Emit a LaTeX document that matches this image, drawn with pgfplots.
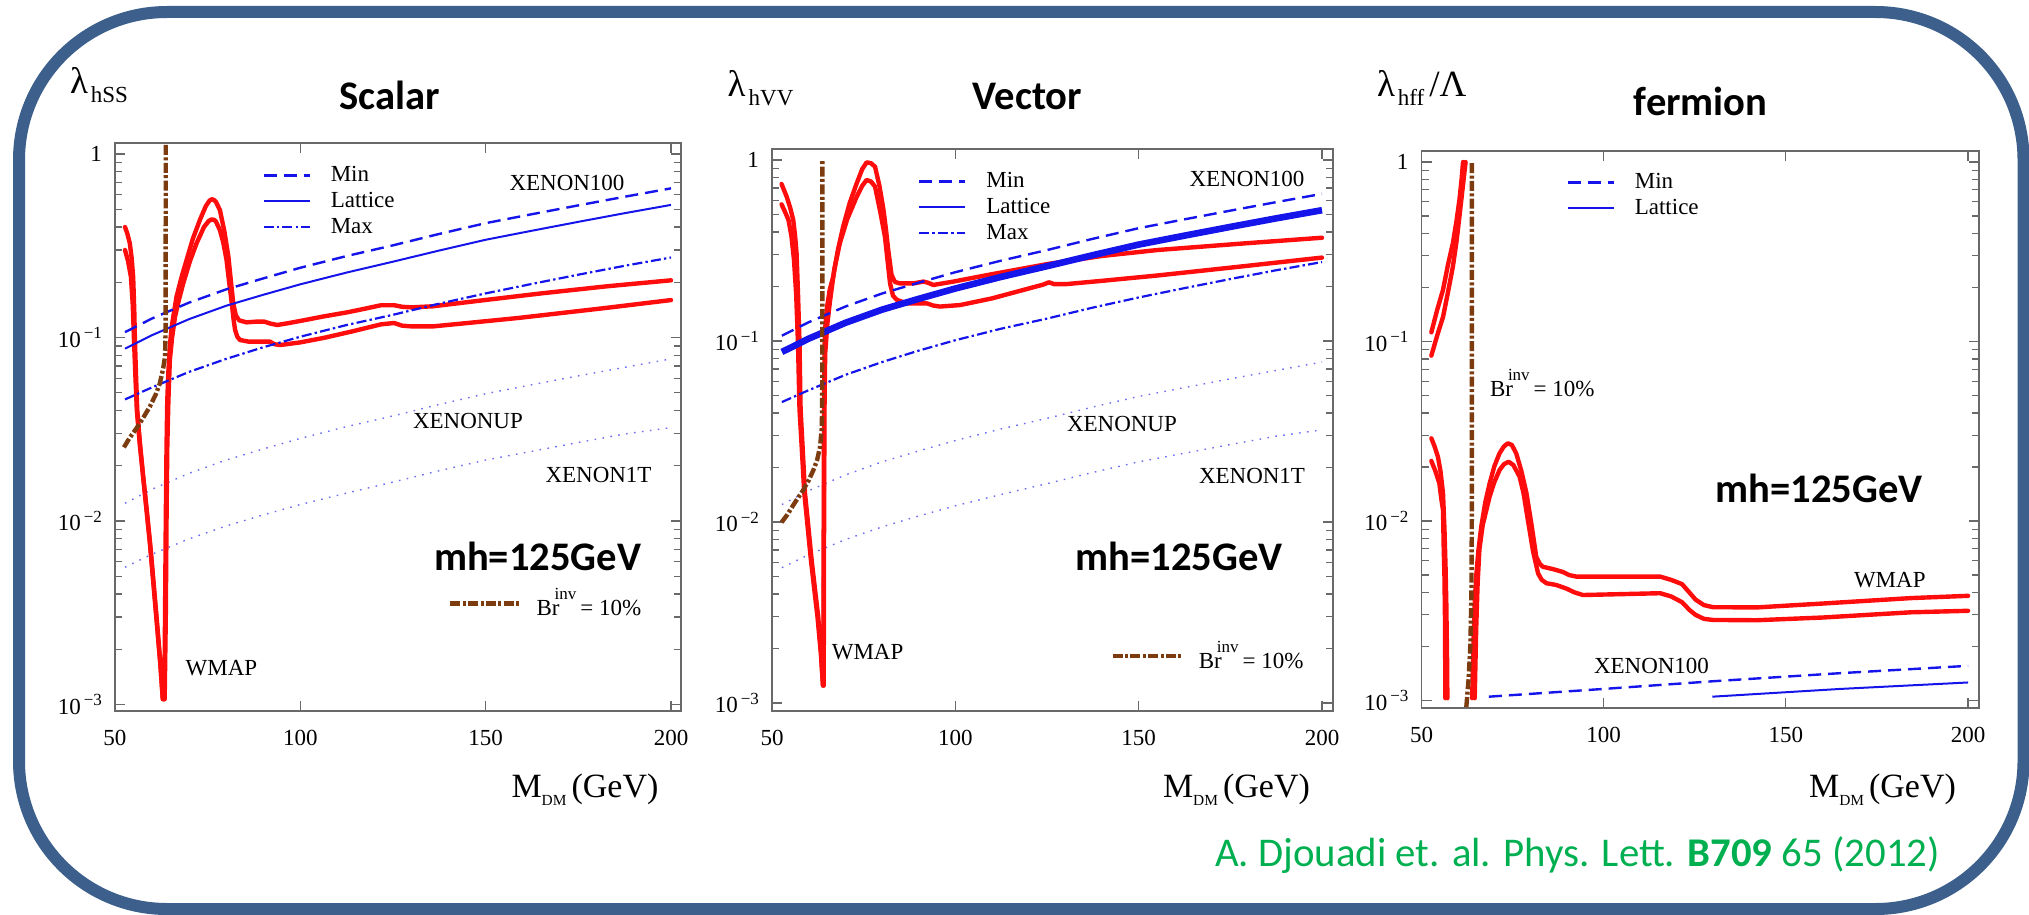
\documentclass[border=0pt]{standalone}
\usepackage{pgfplots}
\usepackage{pgfplotstable}
\pgfplotsset{compat=1.18}
\usepackage{fontspec}
\setmainfont{Liberation Serif}
\newfontfamily\calib{Carlito}

\definecolor{framecol}{RGB}{60,95,140}
\definecolor{dmblue}{RGB}{20,20,235}
\definecolor{dotblue}{RGB}{110,110,245}
\definecolor{wmapred}{RGB}{255,12,12}
\definecolor{brn}{RGB}{125,60,15}
\definecolor{citegreen}{RGB}{0,176,80}
\definecolor{axgray}{RGB}{105,105,105}

\newcommand\fs[1]{\fontsize{#1}{#1}\selectfont}
\newcommand\pw[1]{10\kern1.5pt\raisebox{0.8ex}{\fs{8.5}−#1}}
\newcommand\brinvtext{Br\kern-2.5pt\raisebox{8pt}{\fs{8.5}inv}\kern2pt= 10\%}
\newcommand\mdm{\fs{17}M\raisebox{-4pt}{\fs{7.7}DM}\kern2.5pt(GeV)}

% direct-detection bands (same for scalar and vector DM)
\pgfplotstableread{
x     min    lat    max     up      oneT
52.7  0.107  0.087  0.0460  0.0125  0.0056
60    0.127  0.103  0.0535  0.0149  0.0066
70    0.155  0.126  0.0650  0.0182  0.0080
80    0.183  0.149  0.0765  0.0215  0.0094
90    0.210  0.171  0.0885  0.0247  0.0108
100   0.240  0.195  0.1010  0.0282  0.0123
112.5 0.278  0.226  0.1170  0.0327  0.0142
125   0.318  0.259  0.1330  0.0374  0.0163
137.5 0.367  0.298  0.1530  0.0432  0.0188
150   0.420  0.341  0.1740  0.0494  0.0215
162.5 0.470  0.382  0.1960  0.0553  0.0240
175   0.525  0.427  0.2200  0.0618  0.0268
187.5 0.585  0.476  0.2460  0.0688  0.0298
200   0.650  0.528  0.2730  0.0765  0.0323
}\xenonlines

\tikzset{
  minline/.style={dmblue, line width=1.2pt, dash pattern=on 6.5pt off 3.5pt},
  latline/.style={dmblue, line width=1pt},
  maxline/.style={dmblue, line width=1.1pt, dash pattern=on 5pt off 1.6pt on 1.2pt off 1.6pt},
  xenline/.style={dotblue, line width=0.7pt, dash pattern=on 0.8pt off 3.2pt},
  wmap/.style={wmapred, line width=2.2pt, line join=round, line cap=round},
  brinv/.style={brn, line width=2.2pt, dash pattern=on 5pt off 1.2pt on 1.5pt off 1.2pt},
}

\begin{document}
\begin{tikzpicture}
\useasboundingbox (0,0) rectangle (1014.5pt,-457.5pt);
\draw[framecol, line width=6pt, rounded corners=74pt] (9.5pt,-6pt) rectangle (1011.75pt,-454.5pt);

% ---------------- scalar ----------------
\begin{axis}[at={(57.5pt,-355.5pt)}, anchor=south west,
  scale only axis, width=283pt, height=284pt,
  ymode=log, xmin=50, xmax=202.7, ymin=9.22e-4, ymax=1.148,
  axis line style={axgray, line width=0.65pt},
  tick style={axgray, line width=0.6pt},
  major tick length=5pt, minor tick length=3.5pt,
  tick align=inside, xtick pos=both, ytick pos=both,
  xtick={50,100,150,200}, xticklabels={50,100,150,200},
  ytick={1e-3,1e-2,1e-1,1}, yticklabels={\pw3,\pw2,\pw1,1},
  minor ytick={2e-3,3e-3,4e-3,5e-3,6e-3,7e-3,8e-3,9e-3,2e-2,3e-2,4e-2,5e-2,6e-2,7e-2,8e-2,9e-2,0.2,0.3,0.4,0.5,0.6,0.7,0.8,0.9},
  tick label style={font=\fs{11.5}},
  xticklabel style={yshift=-6pt}, yticklabel style={xshift=-3pt},
  legend cell align=left,
  legend image code/.code={\draw[#1] (0pt,0pt) -- (23pt,0pt);},
  legend style={draw=none, fill=none, font=\fs{11.5}, anchor=north west,
    inner sep=0pt, row sep=-0.2pt, column sep=8pt, at={(0.2597,0.9665)}}]
\addlegendimage{minline}\addlegendentry{Min}
\addlegendimage{latline}\addlegendentry{Lattice}
\addlegendimage{maxline}\addlegendentry{Max}
\addplot[xenline, forget plot] table[x=x, y=up] {\xenonlines};
\addplot[xenline, forget plot] table[x=x, y=oneT] {\xenonlines};
\addplot[wmap, forget plot] coordinates {(52.7,0.40) (53.3,0.37) (54.0,0.326) (54.5,0.27) (54.9,0.214) (55.2,0.14) (55.4,0.093) (55.7,0.060) (56.0,0.0403) (56.7,0.027) (57.6,0.0174) (58.5,0.0115) (59.4,0.0076) (60.3,0.0047) (61.2,0.0029) (62.2,0.0017) (62.9,0.00107) (63.3,0.00107) (63.5,0.003) (63.7,0.01) (63.9,0.025) (64.1,0.045) (64.4,0.065) (64.8,0.09) (65.3,0.1145) (66.6,0.167) (68.0,0.215) (69.3,0.264) (71.0,0.345) (72.9,0.437) (74.5,0.52) (75.5,0.557) (76.1,0.567) (76.7,0.562) (77.2,0.55) (78.3,0.495) (79.5,0.38) (80.6,0.275) (81.3,0.2) (81.9,0.154) (82.6,0.132) (83.5,0.124) (85.5,0.121) (88,0.122) (90.3,0.122) (92,0.119) (93.8,0.117) (97,0.120) (100.8,0.124) (106,0.130) (112.5,0.137) (117,0.143) (121.8,0.150) (125.3,0.150) (127.5,0.147) (130,0.146) (135.8,0.148) (147.5,0.158) (165,0.174) (182.5,0.19) (200,0.205)};
\addplot[wmap, forget plot] coordinates {(52.7,0.30) (53.5,0.262) (54.3,0.214) (54.8,0.15) (55.1,0.10) (55.5,0.062) (55.9,0.040) (56.7,0.026) (57.8,0.016) (58.7,0.0108) (59.6,0.0071) (60.5,0.0044) (61.4,0.0027) (62.3,0.0016) (62.9,0.00107) (63.4,0.00107) (63.7,0.003) (63.9,0.01) (64.1,0.025) (64.4,0.045) (64.8,0.0754) (65.4,0.10) (66.2,0.130) (67.3,0.162) (68.4,0.197) (70.2,0.26) (72.0,0.326) (74.0,0.40) (75.3,0.432) (76.1,0.44) (76.7,0.438) (77.2,0.43) (78.3,0.385) (79.2,0.33) (80.1,0.264) (80.8,0.2) (81.5,0.154) (82.0,0.125) (82.4,0.110) (83.0,0.101) (83.7,0.097) (86,0.095) (89.1,0.095) (91.8,0.095) (93,0.092) (94.5,0.091) (99.9,0.094) (106.6,0.0998) (114,0.108) (121.8,0.118) (125.3,0.120) (127.5,0.116) (130,0.115) (135.8,0.115) (147,0.121) (159.1,0.128) (182.5,0.145) (200,0.160)};
\addplot[minline, forget plot] table[x=x, y=min] {\xenonlines};
\addplot[latline, forget plot] table[x=x, y=lat] {\xenonlines};
\addplot[maxline, forget plot] table[x=x, y=max] {\xenonlines};
\addplot[brinv, forget plot] coordinates {(52.4,0.0252) (54,0.0285) (55.8,0.032) (57.6,0.0365) (59.4,0.042) (61,0.049) (62.1,0.0563) (63.0,0.068) (63.5,0.0786) (63.65,0.11) (63.7,1.14)};
\end{axis}
\begin{axis}[at={(57.5pt,-355.5pt)}, anchor=south west, scale only axis,
  width=283pt, height=284pt, hide axis, xmin=0, xmax=1, ymin=0, ymax=1,
  legend image code/.code={\draw[#1] (0pt,0pt) -- (35.5pt,0pt);},
  legend style={draw=none, fill=none, font=\fs{11.5}, anchor=north west,
    inner sep=0pt, column sep=4.5pt, at={(0.588,0.2236)}}]
\addlegendimage{brinv}\addlegendentry{\brinvtext}
\end{axis}

% ---------------- vector ----------------
\begin{axis}[at={(386pt,-355.5pt)}, anchor=south west,
  scale only axis, width=280.5pt, height=281pt,
  ymode=log, xmin=50, xmax=203.0, ymin=9.04e-4, ymax=1.150,
  axis line style={axgray, line width=0.65pt},
  tick style={axgray, line width=0.6pt},
  major tick length=5pt, minor tick length=3.5pt,
  tick align=inside, xtick pos=both, ytick pos=both,
  xtick={50,100,150,200}, xticklabels={50,100,150,200},
  ytick={1e-3,1e-2,1e-1,1}, yticklabels={\pw3,\pw2,\pw1,1},
  minor ytick={2e-3,3e-3,4e-3,5e-3,6e-3,7e-3,8e-3,9e-3,2e-2,3e-2,4e-2,5e-2,6e-2,7e-2,8e-2,9e-2,0.2,0.3,0.4,0.5,0.6,0.7,0.8,0.9},
  tick label style={font=\fs{11.5}},
  xticklabel style={yshift=-6pt}, yticklabel style={xshift=-3pt},
  legend cell align=left,
  legend image code/.code={\draw[#1] (0pt,0pt) -- (23pt,0pt);},
  legend style={draw=none, fill=none, font=\fs{11.5}, anchor=north west,
    inner sep=0pt, row sep=-0.2pt, column sep=8pt, at={(0.2595,0.9660)}}]
\addlegendimage{minline}\addlegendentry{Min}
\addlegendimage{latline}\addlegendentry{Lattice}
\addlegendimage{maxline}\addlegendentry{Max}
\addplot[xenline, forget plot] table[x=x, y=up] {\xenonlines};
\addplot[xenline, forget plot] table[x=x, y=oneT] {\xenonlines};
\addplot[wmap, forget plot] coordinates {(52.6,0.737) (53.3,0.68) (54.0,0.627) (54.9,0.55) (55.8,0.466) (56.3,0.38) (56.7,0.305) (57.1,0.18) (57.5,0.097) (57.8,0.0416) (58.3,0.027) (59.0,0.0144) (59.9,0.0095) (60.8,0.0062) (61.7,0.0043) (62.6,0.0030) (63.4,0.0019) (63.9,0.00125) (64.05,0.00125) (64.1,0.01) (64.2,0.05) (64.4,0.11) (64.9,0.148) (65.7,0.19) (66.7,0.227) (68,0.32) (69.4,0.428) (71.2,0.58) (73.1,0.743) (74.6,0.89) (75.8,0.97) (77,0.96) (78.1,0.918) (79.3,0.72) (80.4,0.53) (81.1,0.41) (81.7,0.318) (82.6,0.232) (83.5,0.212) (84.9,0.208) (88.5,0.208) (91.3,0.213) (92.5,0.21) (94.0,0.204) (99.5,0.213) (110,0.234) (125.5,0.267) (140,0.295) (155,0.318) (178.7,0.346) (200,0.372)};
\addplot[wmap, forget plot] coordinates {(52.6,0.569) (53.5,0.52) (54.5,0.466) (55.3,0.38) (56.0,0.28) (56.6,0.18) (57.1,0.095) (57.5,0.042) (58.1,0.026) (58.8,0.0145) (59.7,0.0095) (60.6,0.0062) (61.5,0.0043) (62.4,0.0030) (63.3,0.0019) (63.9,0.00125) (64.1,0.00125) (64.2,0.01) (64.3,0.04) (64.5,0.085) (65.1,0.125) (65.8,0.165) (67,0.25) (68.5,0.347) (70.5,0.47) (73.1,0.627) (74.6,0.72) (75.8,0.776) (77,0.76) (78.1,0.713) (79.5,0.52) (80.8,0.377) (81.5,0.28) (82.2,0.208) (83,0.178) (84.0,0.169) (86.7,0.1615) (92.2,0.1615) (94,0.157) (95.8,0.155) (101.3,0.158) (110,0.172) (120,0.195) (124,0.205) (125.5,0.211) (127,0.206) (130,0.206) (140,0.215) (155,0.230) (178.7,0.259) (200,0.289)};
\addplot[minline, forget plot] table[x=x, y=min] {\xenonlines};
\addplot[latline, line width=3.3pt, forget plot] table[x=x, y=lat] {\xenonlines};
\addplot[maxline, forget plot] table[x=x, y=max] {\xenonlines};
\addplot[brinv, forget plot] coordinates {(52.6,0.00995) (54.2,0.011) (55.8,0.0124) (57.2,0.0137) (58.5,0.0150) (60,0.017) (61.3,0.0194) (62.3,0.022) (63.1,0.026) (63.6,0.0336) (63.7,0.06) (63.75,1.0)};
\end{axis}
\begin{axis}[at={(386pt,-355.5pt)}, anchor=south west, scale only axis,
  width=280.5pt, height=281pt, hide axis, xmin=0, xmax=1, ymin=0, ymax=1,
  legend image code/.code={\draw[#1] (0pt,0pt) -- (35.5pt,0pt);},
  legend style={draw=none, fill=none, font=\fs{11.5}, anchor=north west,
    inner sep=0pt, column sep=4.5pt, at={(0.6025,0.1327)}}]
\addlegendimage{brinv}\addlegendentry{\brinvtext}
\end{axis}

% ---------------- fermion ----------------
\begin{axis}[at={(710.75pt,-354pt)}, anchor=south west,
  scale only axis, width=278.75pt, height=278.5pt,
  ymode=log, xmin=50, xmax=203.0, ymin=9.08e-4, ymax=1.152,
  axis line style={axgray, line width=0.65pt},
  tick style={axgray, line width=0.6pt},
  major tick length=5pt, minor tick length=3.5pt,
  tick align=inside, xtick pos=both, ytick pos=both,
  xtick={50,100,150,200}, xticklabels={50,100,150,200},
  ytick={1e-3,1e-2,1e-1,1}, yticklabels={\pw3,\pw2,\pw1,1},
  minor ytick={2e-3,3e-3,4e-3,5e-3,6e-3,7e-3,8e-3,9e-3,2e-2,3e-2,4e-2,5e-2,6e-2,7e-2,8e-2,9e-2,0.2,0.3,0.4,0.5,0.6,0.7,0.8,0.9},
  tick label style={font=\fs{11.5}},
  xticklabel style={yshift=-6pt}, yticklabel style={xshift=-3pt},
  legend cell align=left,
  legend image code/.code={\draw[#1] (0pt,0pt) -- (23pt,0pt);},
  legend style={draw=none, fill=none, font=\fs{11.5}, anchor=north west,
    inner sep=0pt, row sep=-0.2pt, column sep=8pt, at={(0.2592,0.9680)}}]
\addlegendimage{minline}\addlegendentry{Min}
\addlegendimage{latline}\addlegendentry{Lattice}
\addplot[wmap, forget plot] coordinates {(52.7,0.1125) (54.3,0.15) (55.9,0.194) (57.3,0.27) (58.6,0.352) (59.6,0.47) (60.4,0.614) (61.0,0.8) (61.4,1.0)};
\addplot[wmap, forget plot] coordinates {(52.7,0.0834) (54.3,0.108) (55.9,0.137) (57.3,0.19) (58.6,0.261) (59.6,0.36) (60.4,0.496) (61.3,0.72) (62.1,1.0)};
\addplot[wmap, forget plot] coordinates {(52.7,0.0289) (53.6,0.026) (54.5,0.0228) (55.2,0.019) (55.9,0.01426) (56.3,0.009) (56.6,0.0055) (56.8,0.0035) (57.0,0.0018) (57.1,0.00103)};
\addplot[wmap, forget plot] coordinates {(52.7,0.0216) (53.8,0.019) (54.9,0.0162) (55.5,0.013) (55.9,0.0115) (56.1,0.007) (56.3,0.0049) (56.45,0.0028) (56.55,0.00103)};
\addplot[wmap, forget plot] coordinates {(63.9,0.00103) (64.3,0.0022) (64.6,0.0035) (65.0,0.0049) (65.6,0.0068) (66.4,0.0093) (67.5,0.0127) (68.7,0.0162) (70.0,0.0202) (71.4,0.0238) (72.6,0.026) (73.7,0.0271) (74.8,0.0265) (76.0,0.0238) (77.4,0.019) (78.8,0.0143) (80.2,0.0095) (81.5,0.0063) (82.4,0.0058) (83.3,0.00556) (86,0.0054) (88.8,0.0052) (90.5,0.005) (92.5,0.0049) (101,0.0049) (110,0.0049) (115.5,0.0049) (118.5,0.0047) (121.5,0.00445) (123.5,0.0040) (125.2,0.00365) (127.5,0.0034) (130,0.00331) (142,0.0033) (160.2,0.00347) (184.3,0.00372) (200,0.00383)};
\addplot[wmap, forget plot] coordinates {(64.6,0.00103) (65.0,0.0025) (65.4,0.0045) (65.9,0.0070) (66.8,0.0095) (68.7,0.0137) (70.0,0.0165) (71.4,0.0192) (72.6,0.0207) (73.9,0.0214) (75.2,0.0205) (76.9,0.0177) (78.0,0.0143) (79.2,0.0101) (80.6,0.0068) (82.0,0.0051) (83.0,0.0047) (84.3,0.0045) (87,0.0044) (89.8,0.0042) (92,0.004) (94.3,0.00387) (101.6,0.0039) (115.5,0.00396) (118.5,0.0038) (121.5,0.00353) (123.5,0.0032) (125.2,0.0030) (127.5,0.00285) (130,0.00281) (142,0.0028) (160.2,0.0029) (184.3,0.0031) (200,0.00316)};
\addplot[minline, forget plot] coordinates {(68.5,0.00105) (100,0.00116) (130,0.00128) (165,0.00142) (200,0.00156)};
\addplot[latline, forget plot] coordinates {(129.8,0.00105) (165,0.00116) (200,0.00126)};
\addplot[brinv, forget plot] coordinates {(62.3,0.00092) (62.9,0.0013) (63.4,0.002) (63.7,0.004) (63.8,0.01) (63.8,1.0)};
\end{axis}

% ---------------- titles and labels ----------------
\begin{scope}[x=0.5pt, y=-0.5pt, every node/.style={inner sep=0pt, outer sep=0pt}]
\node[anchor=base west] at (70,94) {\fs{18.5}λ\kern1.5pt\raisebox{-4.5pt}{\fs{11.5}hSS}};
\node[anchor=base west] at (727.7,97) {\fs{18.5}λ\kern1.5pt\raisebox{-4.5pt}{\fs{11.5}hVV}};
\node[anchor=base west] at (1377,97) {\fs{18.5}λ\kern1.5pt\raisebox{-4.5pt}{\fs{11.5}hff}\kern2.5pt/Λ};

\node[anchor=base west] at (511.5,797) {\mdm};
\node[anchor=base west] at (1163,797) {\mdm};
\node[anchor=base west] at (1809,797) {\mdm};

\node[anchor=base] at (390,110) {\calib\bfseries\fs{20.3}Scalar};
\node[anchor=base] at (1027.5,110) {\calib\bfseries\fs{20.3}Vector};
\node[anchor=base] at (1700.7,116) {\calib\bfseries\fs{20.3}fermion};

\node[anchor=base west] at (509.5,191) {\fs{11.5}XENON100};
\node[anchor=base west] at (413,428.6) {\fs{11.5}XENONUP};
\node[anchor=base west] at (545.5,482) {\fs{11.5}XENON1T};
\node[anchor=base west] at (185.6,675) {\fs{11.5}WMAP};
\node[anchor=base west] at (434,570) {\calib\bfseries\fs{20.3}mh=125GeV};

\node[anchor=base west] at (1189.5,186) {\fs{11.5}XENON100};
\node[anchor=base west] at (1067,431) {\fs{11.5}XENONUP};
\node[anchor=base west] at (1199,483.7) {\fs{11.5}XENON1T};
\node[anchor=base west] at (831.8,659) {\fs{11.5}WMAP};
\node[anchor=base west] at (1075.5,570) {\calib\bfseries\fs{20.3}mh=125GeV};

\node[anchor=base west] at (1490,396) {\fs{11.5}\brinvtext};
\node[anchor=base west] at (1854,587) {\fs{11.5}WMAP};
\node[anchor=base west] at (1594,673.5) {\fs{11.5}XENON100};
\node[anchor=base west] at (1715.7,502.5) {\calib\bfseries\fs{20.3}mh=125GeV};

\node[anchor=base west] at (1215,866) {\calib\fs{20.4}\color{citegreen}A. Djouadi et. al. Phys. Lett. \textbf{B709} 65 (2012)};
\end{scope}
\end{tikzpicture}
\end{document}
